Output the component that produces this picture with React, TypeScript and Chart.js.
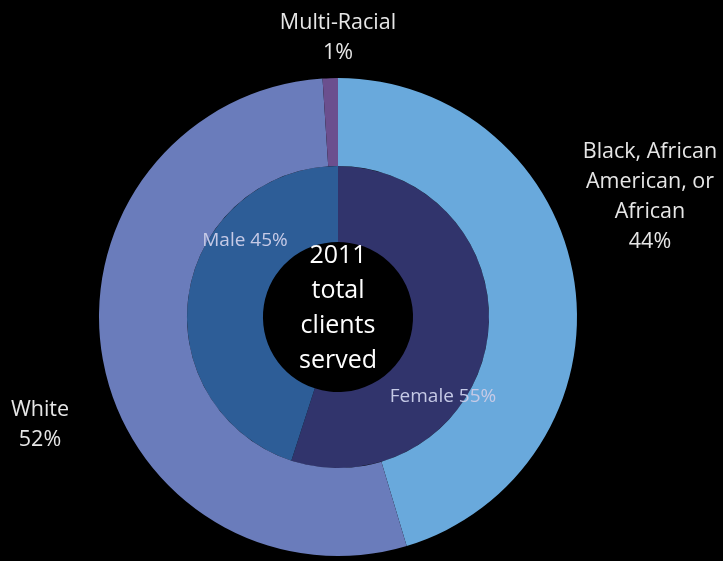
import React, { useEffect, useRef } from 'react';
import { Chart, registerables } from 'chart.js';

Chart.register(...registerables);

// outer ring: race
const raceLabels = ['Black, African American, or African', 'White', 'Multi-Racial'];
const raceValues = [44, 52, 1];
const raceColors = ['#69a9dc', '#6a7cbb', '#6b4f8e'];

// inner ring: gender
const genderLabels = ['Female', 'Male'];
const genderValues = [55, 45];
const genderColors = ['#31346c', '#2d5d97'];

const centerLines = ['2011', 'total', 'clients', 'served'];

const FONT = '"Open Sans", "Noto Sans", sans-serif';

// text labels, placed relative to the chart center
const labelPlugin = {
  id: 'ringLabels',
  afterDraw(chart: any) {
    const { ctx } = chart;
    const arc = chart.getDatasetMeta(0).data[0];
    if (!arc) return;
    const cx = arc.x;
    const cy = arc.y;
    ctx.save();
    ctx.textAlign = 'center';
    ctx.textBaseline = 'middle';

    const block = (lines: string[], x: number, y: number, lh: number) => {
      lines.forEach((l, i) => ctx.fillText(l, x, y + i * lh));
    };

    // outer labels
    ctx.fillStyle = '#e6e6e6';
    ctx.font = `21.5px ${FONT}`;
    block(['Multi-Racial', raceValues[2] + '%'], cx, cy - 294, 30);
    block(['Black, African', 'American, or', 'African', raceValues[0] + '%'], cx + 312, cy - 165, 30);
    block(['White', raceValues[1] + '%'], cx - 298, cy + 93, 30);

    // inner labels
    ctx.fillStyle = '#c6cae6';
    ctx.font = `19px ${FONT}`;
    ctx.fillText(`${genderLabels[1]} ${genderValues[1]}%`, cx - 93, cy - 76);
    ctx.fillText(`${genderLabels[0]} ${genderValues[0]}%`, cx + 105, cy + 80);

    // center text
    ctx.fillStyle = '#ffffff';
    ctx.font = `25px ${FONT}`;
    block(centerLines, cx, cy - 61, 35);
    ctx.restore();
  },
};

export default function App() {
  const canvasRef = useRef<HTMLCanvasElement | null>(null);

  useEffect(() => {
    document.body.style.margin = '0';
    document.body.style.background = '#000';
    if (!canvasRef.current) return;
    const chart = new Chart(canvasRef.current, {
      type: 'doughnut',
      data: {
        labels: raceLabels,
        datasets: [
          {
            data: raceValues,
            backgroundColor: raceColors,
            borderWidth: 0,
            weight: 88,
          },
          {
            data: genderValues,
            backgroundColor: genderColors,
            borderWidth: 0,
            weight: 76,
          },
        ],
      },
      options: {
        responsive: false,
        animation: false,
        cutout: '31.4%',
        layout: { padding: { left: 99, right: 146, top: 78, bottom: 5 } },
        plugins: {
          legend: { display: false },
          tooltip: { enabled: false },
        },
      },
      plugins: [labelPlugin],
    });
    return () => chart.destroy();
  }, []);

  return (
    <div style={{ width: 723, height: 561, background: '#000' }}>
      <canvas ref={canvasRef} width={723} height={561} />
    </div>
  );
}
